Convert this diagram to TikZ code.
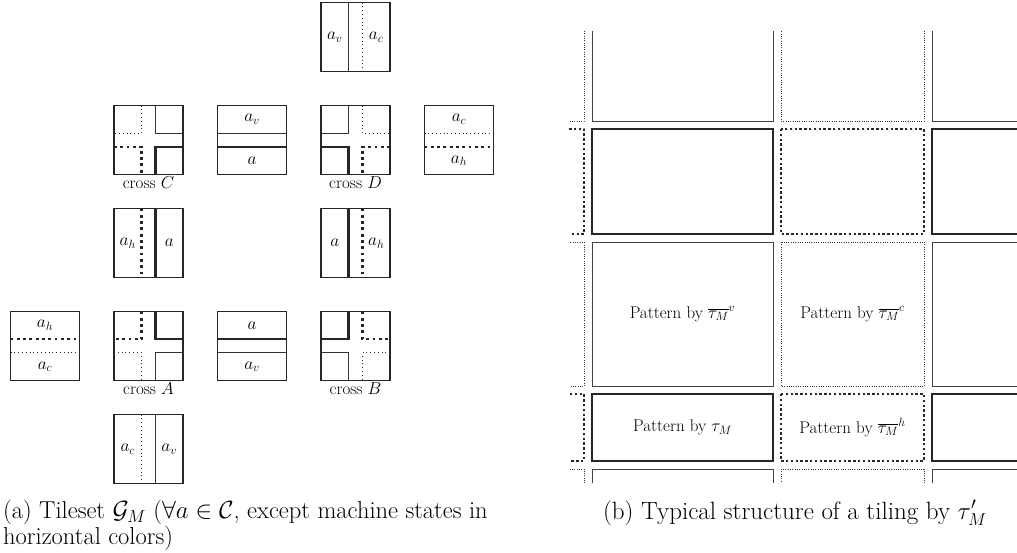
\documentclass[tikz,border=0pt]{standalone}
\begin{document}
\tikzset{
  tb/.style={line width=1.8pt, draw=black!85},
  thn/.style={line width=0.9pt, draw=black!80},
  thk/.style={line width=2.6pt, draw=black!85},
  thndot/.style={line width=0.9pt, draw=black!85, dash pattern=on 0.9pt off 2.9pt},
  thkdot/.style={line width=2.6pt, draw=black!85, dash pattern=on 2.8pt off 3.5pt},
  tlab/.style={font=\fontsize{17}{20}\selectfont, inner sep=0pt},
  plab/.style={font=\fontsize{17}{20}\selectfont, inner sep=0pt},
  caplab/.style={font=\fontsize{25}{25}\selectfont, inner sep=0pt},
  capalab/.style={font=\fontsize{24.5}{25}\selectfont, inner sep=0pt},
  bthn/.style={line width=1pt, draw=black!75},
  bthk/.style={line width=2.7pt, draw=black!85},
  bthndot/.style={line width=0.8pt, draw=black!80, dash pattern=on 0.8pt off 1.5pt},
  bthkdot/.style={line width=2.4pt, draw=black!85, dash pattern=on 2.4pt off 2.4pt, line join=round}
}
\newcommand\crossT[6]{%
  \begin{scope}[shift={(#1,#2)}]
    \draw[#3] (27.6,0) -- (27.6,27.6) -- (0,27.6);
    \draw[#4] (41.4,0) -- (41.4,27.6) -- (69,27.6);
    \draw[#5] (0,41.4) -- (27.6,41.4) -- (27.6,69);
    \draw[#6] (69,41.4) -- (41.4,41.4) -- (41.4,69);
    \draw[tb] (0,0) rectangle (69,69);
  \end{scope}}
\newcommand\vtileT[7]{%
  \begin{scope}[shift={(#1,#2)}]
    \draw[#3] (27.6,0) -- (27.6,69);
    \draw[#4] (41.4,0) -- (41.4,69);
    \draw[tb] (0,0) rectangle (69,69);
    \node[tlab] (#7l) at (13.8,34.5) {#5};
    \node[tlab] (#7r) at (55.2,34.5) {#6};
  \end{scope}}
\newcommand\htileT[7]{%
  \begin{scope}[shift={(#1,#2)}]
    \draw[#3] (0,27.6) -- (69,27.6);
    \draw[#4] (0,41.4) -- (69,41.4);
    \draw[tb] (0,0) rectangle (69,69);
    \node[tlab] (#7t) at (34.5,13.8) {#5};
    \node[tlab] (#7b) at (34.5,55.2) {#6};
  \end{scope}}
\begin{tikzpicture}[x=1pt,y=-1pt]
\useasboundingbox (0,0) rectangle (1017,552);
% ---------- (a) tileset ----------
\vtileT{321}{2.5}{thn}{thndot}{$a_v$}{$a_c$}{t1}
\crossT{114}{105.5}{thndot}{thn}{thkdot}{thk}
\node[tlab, anchor=base] (cC) at (148.5,188.5) {cross $C$};
\htileT{217.5}{105.5}{thn}{thk}{$a_v$}{$a$}{t3}
\crossT{321}{105.5}{thn}{thndot}{thk}{thkdot}
\node[tlab, anchor=base] (cD) at (355.5,188.5) {cross $D$};
\htileT{424.5}{105.5}{thndot}{thkdot}{$a_c$}{$a_h$}{t5}
\vtileT{114}{208.5}{thkdot}{thk}{$a_h$}{$a$}{t6}
\vtileT{321}{208.5}{thk}{thkdot}{$a$}{$a_h$}{t7}
\htileT{10.5}{311.5}{thkdot}{thndot}{$a_h$}{$a_c$}{t8}
\crossT{114}{311.5}{thkdot}{thk}{thndot}{thn}
\node[tlab, anchor=base] (cA) at (148.5,394.5) {cross $A$};
\htileT{217.5}{311.5}{thk}{thn}{$a$}{$a_v$}{t10}
\crossT{321}{311.5}{thk}{thkdot}{thn}{thndot}
\node[tlab, anchor=base] (cB) at (355.5,394.5) {cross $B$};
\vtileT{114}{414.5}{thndot}{thn}{$a_c$}{$a_v$}{t12}
\node[capalab, anchor=base west] (capa1) at (3,518.5)
  {(a) Tileset $\mathcal{G}_M$ ($\forall a \in \mathcal{C}$, except machine states in};
\node[capalab, anchor=base west] (capa2) at (3,544.5) {horizontal colors)};
% ---------- (b) structure ----------
\begin{scope}
  \clip (569,31) rectangle (1017,482);
  \foreach \ya/\yb/\k in {-40/121/n, 129/234/k, 242/386/n, 394/461/k, 469/600/n}{
    \draw[bth\k dot] (480,\ya) rectangle (584,\yb);
    \draw[bth\k] (592,\ya) rectangle (773,\yb);
    \draw[bth\k dot] (781,\ya) rectangle (924,\yb);
    \draw[bth\k] (932,\ya) rectangle (1110,\yb);
  }
\end{scope}
\node[plab] (p1) at (682.5,314) {Pattern by $\overline{\tau_M}^{v}$};
\node[plab] (p2) at (852.5,314) {Pattern by $\overline{\tau_M}^{c}$};
\node[plab] (p3) at (682.5,427.5) {Pattern by $\tau_M$};
\node[plab] (p4) at (852.5,427.5) {Pattern by $\overline{\tau_M}^{h}$};
\node[caplab, anchor=base] (capb) at (795,519) {(b) Typical structure of a tiling by $\tau'_M$};
\end{tikzpicture}
\end{document}
